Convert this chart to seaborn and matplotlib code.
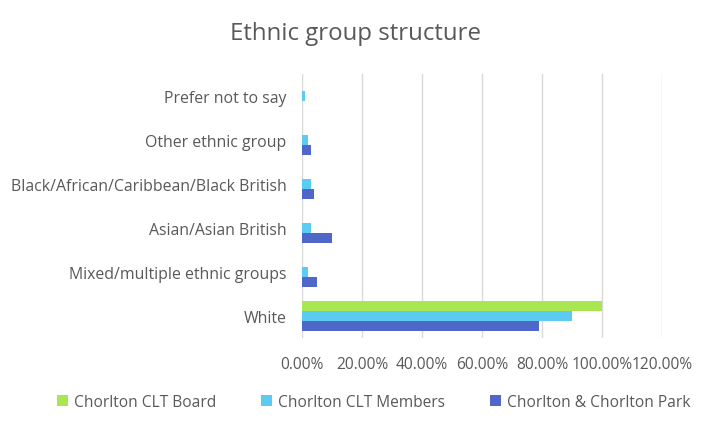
import matplotlib
matplotlib.use("Agg")
import matplotlib.pyplot as plt
import seaborn as sns
import pandas as pd
from matplotlib.ticker import FuncFormatter

categories = ["White", "Mixed/multiple ethnic groups", "Asian/Asian British",
              "Black/African/Caribbean/Black British", "Other ethnic group", "Prefer not to say"]
series = ["Chorlton CLT Board", "Chorlton CLT Members", "Chorlton & Chorlton Park"]
board = [100.0, 0.0, 0.0, 0.0, 0.0, 0.0]
members = [90.0, 2.0, 3.0, 3.0, 2.0, 1.0]
park = [79.0, 5.0, 10.0, 4.0, 3.0, 0.0]
colors = ["#A9E752", "#5BCBF1", "#4F67C9"]

rows = []
for s, vals in zip(series, [board, members, park]):
    for c, v in zip(categories, vals):
        rows.append({"cat": c, "series": s, "val": v})
df = pd.DataFrame(rows)

sns.set_theme(style="white")
plt.rcParams['font.family'] = ['Open Sans', 'DejaVu Sans']
text_col = "#595959"

fig = plt.figure(figsize=(7.12, 4.27), dpi=100)
ax = fig.add_axes([302/712, 1-339/427, 360/712, 264/427])

order = categories[::-1]
sns.barplot(data=df, y="cat", x="val", hue="series", order=order, hue_order=series,
            palette=colors, orient="h", width=0.66, ax=ax, saturation=1, legend=True,
            linewidth=0)

ax.set_xlim(0, 120)
ax.set_xticks([0, 20, 40, 60, 80, 100, 120])
ax.xaxis.set_major_formatter(FuncFormatter(lambda v, p: f"{v:.2f}%"))
ax.grid(axis="x", color="#D9D9D9", linewidth=1)
ax.set_axisbelow(True)
for sp in ax.spines.values():
    sp.set_visible(False)
ax.set_xlabel("")
ax.set_ylabel("")
ax.tick_params(axis="y", length=0, labelsize=11.4, colors=text_col, pad=11)
ax.tick_params(axis="x", length=0, labelsize=11.2, colors=text_col, pad=13)

h, l = ax.get_legend_handles_labels()
ax.get_legend().remove()
fig.legend(h, l, loc="center", bbox_to_anchor=(0.525, 1-403/427), ncol=3, frameon=False,
           fontsize=11.2, labelcolor=text_col, handlelength=0.7, handleheight=0.7,
           handletextpad=0.4, columnspacing=2.9)

fig.text(0.5, 1-34/427, "Ethnic group structure", ha="center", va="center",
         fontsize=17.3, color=text_col)

fig.savefig("out.png", dpi=100)
